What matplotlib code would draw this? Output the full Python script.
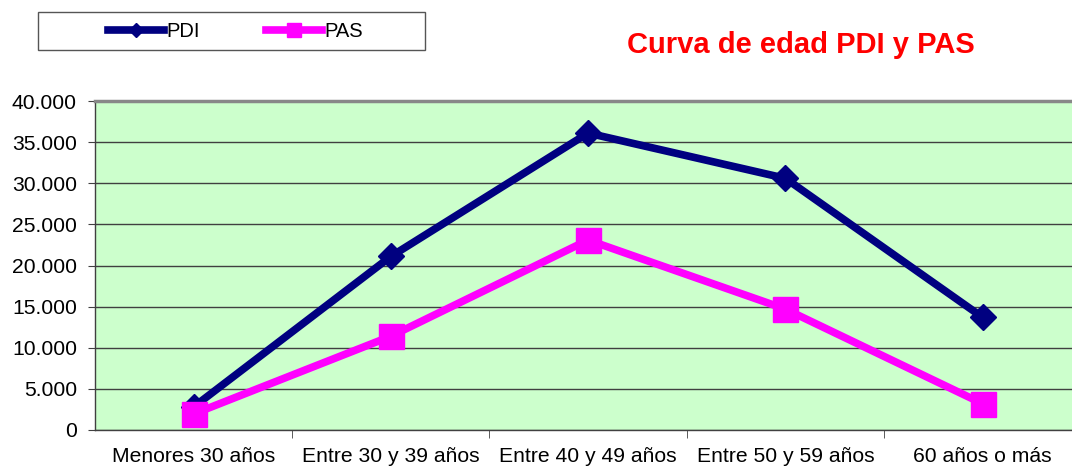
import matplotlib.pyplot as plt
from matplotlib.lines import Line2D
from matplotlib.patches import Rectangle
from matplotlib.ticker import FuncFormatter, MultipleLocator

categorias = ['Menores 30 años', 'Entre 30 y 39 años', 'Entre 40 y 49 años',
              'Entre 50 y 59 años', '60 años o más']
pdi = [2800, 21100, 36100, 30600, 13700]
pas = [1950, 11400, 23100, 14700, 3200]

plt.rcParams['font.family'] = ['Liberation Sans', 'DejaVu Sans']

fig = plt.figure(figsize=(10.72, 4.69), dpi=100)
ax = fig.add_axes([0.0886, 0.0832, 0.92, 0.7014])
ax.set_facecolor('#ccffcc')

x = list(range(len(categorias)))
ax.plot(x, pdi, color='#000080', linewidth=5.5, marker='D', markersize=13,
        zorder=3)
ax.plot(x, pas, color='#ff00ff', linewidth=5.5, marker='s', markersize=18,
        zorder=3)

ax.set_xlim(-0.5, len(categorias) - 0.5)
ax.set_ylim(0, 40000)
ax.yaxis.set_major_locator(MultipleLocator(5000))
ax.yaxis.set_major_formatter(FuncFormatter(lambda v, p: f'{int(v):,}'.replace(',', '.')))
ax.grid(axis='y', color='#404040', linewidth=1)
ax.set_axisbelow(True)

ax.set_xticks(x)
ax.set_xticklabels(categorias)
ax.set_xticks([i + 0.5 for i in x[:-1]], minor=True)
ax.tick_params(axis='x', which='major', length=0, pad=12, labelsize=15.2)
ax.tick_params(axis='x', which='minor', length=6, color='#404040')
ax.tick_params(axis='y', length=5, color='#404040', labelsize=15.2, pad=8)

for s in ['left', 'bottom']:
    ax.spines[s].set_color('#404040')
    ax.spines[s].set_linewidth(1)
ax.spines['top'].set_color('#888888')
ax.spines['top'].set_linewidth(2.5)
ax.spines['right'].set_visible(False)

# recuadro de la leyenda y leyenda centrada dentro
caja = (0.035, 0.893, 0.361, 0.081)
fig.patches.append(Rectangle(caja[:2], caja[2], caja[3], transform=fig.transFigure,
                             facecolor='white', edgecolor='#555555', linewidth=1))
handles = [
    Line2D([], [], color='#000080', linewidth=5.5, marker='D', markersize=7),
    Line2D([], [], color='#ff00ff', linewidth=5.5, marker='s', markersize=10),
]
fig.legend(handles, ['PDI', 'PAS'], loc='center',
           bbox_to_anchor=(caja[0] + caja[2] / 2 + 0.004, caja[1] + caja[3] / 2),
           ncol=2, fontsize=14.5, handlelength=2.8, handletextpad=0.1,
           frameon=False, columnspacing=3.3)

fig.text(0.747, 0.905, 'Curva de edad PDI y PAS', color='#ff0000',
         fontsize=21, fontweight='bold', ha='center', va='center')

fig.savefig('out.png', dpi=100)
